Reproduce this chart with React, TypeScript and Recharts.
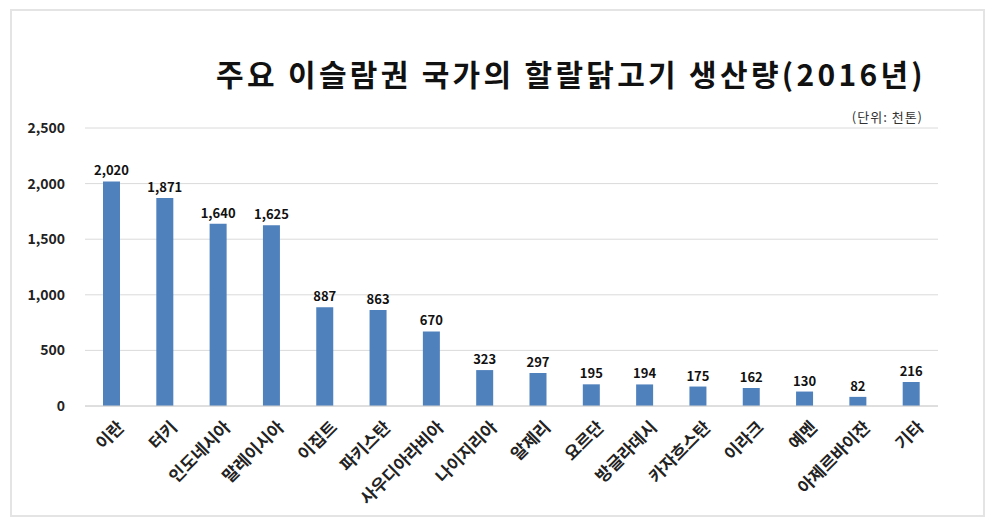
import React from 'react';
import { BarChart, Bar, XAxis, YAxis, CartesianGrid, LabelList } from 'recharts';

const countries = [
  '이란', '터키', '인도네시아', '말레이시아', '이집트', '파키스탄', '사우디아라비아', '나이지리아',
  '알제리', '요르단', '방글라데시', '카자흐스탄', '이라크', '예멘', '아제르바이잔', '기타',
];
const production = [2020, 1871, 1640, 1625, 887, 863, 670, 323, 297, 195, 194, 175, 162, 130, 82, 216];
const yTicks = [0, 500, 1000, 1500, 2000, 2500];

const data = countries.map((name, i) => ({ name, value: production[i] }));

const FONT = '"Noto Sans CJK KR", "Noto Sans", sans-serif';

const fmt = (v: number) => v.toLocaleString('en-US');

const CountryTick = (props: any) => {
  const { x, y, payload } = props;
  return (
    <g transform={`translate(${x + 7},${y + 8})`}>
      <text
        x={0}
        y={0}
        dy={9}
        textAnchor="end"
        transform="rotate(-45)"
        fontSize={17}
        fontWeight={700}
        fill="#222"
        fontFamily={FONT}
      >
        {payload.value}
      </text>
    </g>
  );
};

const App: React.FC = () => {
  return (
    <div
      style={{
        position: 'relative',
        width: 975,
        height: 508,
        margin: '1px 0 0 2px',
        border: '2px solid #e4e4e4',
        boxSizing: 'border-box',
        background: '#fff',
        fontFamily: FONT,
      }}
    >
      <div
        style={{
          position: 'absolute',
          right: 57,
          top: 40,
          fontSize: 30,
          fontWeight: 700,
          color: '#111',
          letterSpacing: 3.3,
          whiteSpace: 'nowrap',
        }}
      >
        주요 이슬람권 국가의 할랄닭고기 생산량(2016년)
      </div>
      <div
        style={{
          position: 'absolute',
          right: 60,
          top: 96,
          fontSize: 13,
          color: '#333',
          letterSpacing: 1,
          whiteSpace: 'nowrap',
        }}
      >
        (단위: 천톤)
      </div>
      <BarChart
        width={971}
        height={504}
        data={data}
        margin={{ top: 117, right: 45, bottom: 0, left: 13 }}
      >
        <CartesianGrid vertical={false} stroke="#dadada" />
        <XAxis
          dataKey="name"
          interval={0}
          height={109}
          tickLine={false}
          axisLine={{ stroke: '#d0d0d0' }}
          tick={<CountryTick />}
        />
        <YAxis
          width={60}
          domain={[0, 2500]}
          ticks={yTicks}
          tickFormatter={fmt}
          axisLine={false}
          tickLine={false}
          tick={{ fontSize: 14, fontWeight: 700, fill: '#222', fontFamily: FONT }}
          tickMargin={14}
        />
        <Bar dataKey="value" fill="#4f81bd" barSize={17} isAnimationActive={false}>
          <LabelList
            dataKey="value"
            position="top"
            offset={6}
            formatter={(v: any) => fmt(Number(v))}
            style={{ fontSize: 13, fontWeight: 700, fill: '#111', fontFamily: FONT }}
          />
        </Bar>
      </BarChart>
    </div>
  );
};

export default App;
